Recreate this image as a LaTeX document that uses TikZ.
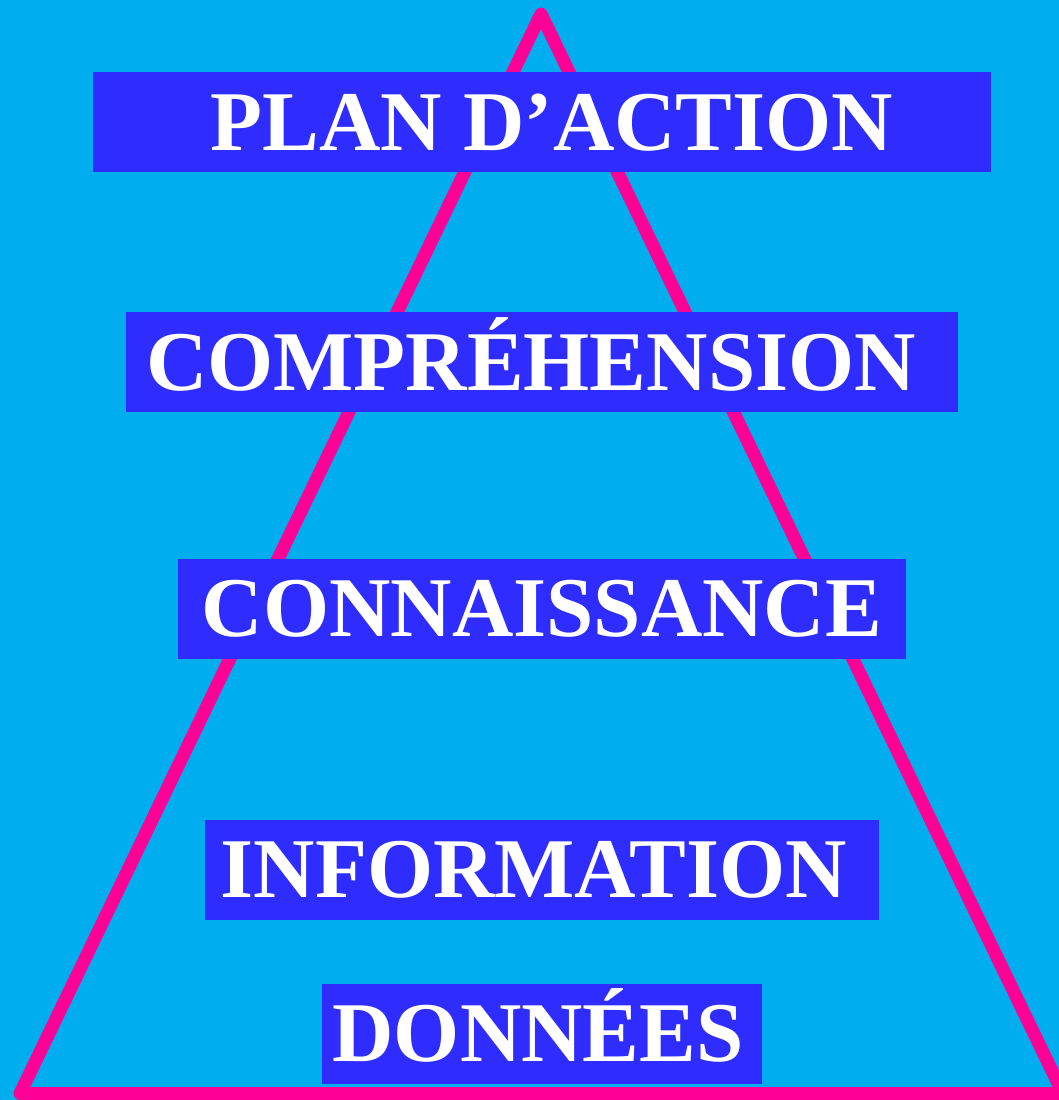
\documentclass[tikz,border=0pt]{standalone}
\usepackage{fontspec}
\setmainfont{Liberation Serif}
\usepackage{xcolor}
\usepackage{tikz}

\definecolor{fondbleu}{RGB}{0,174,239}
\definecolor{rose}{RGB}{255,0,150}
\definecolor{bleuboite}{RGB}{46,44,255}

\begin{document}
\begin{tikzpicture}[x=0.5pt,y=-0.5pt,
    niveau/.style={fill=bleuboite, text=white, inner sep=0pt,
      minimum height=50pt, text height=28.2pt, text depth=0pt,
      font=\fontsize{42.5pt}{42.5pt}\selectfont\bfseries}]
  % background
  \fill[fondbleu] (0,0) rectangle (1059,1100);
  \useasboundingbox (0,0) rectangle (1059,1100);

  % pyramid outline
  \coordinate (sommet) at (541,14);
  \coordinate (gauche) at (20,1093.5);
  \coordinate (droite) at (1063,1093.5);
  \draw[rose, line width=6.5pt, line join=round, line cap=round]
    (sommet) -- (droite) -- (gauche) -- cycle;

  % the five levels, top to bottom
  \node[niveau, minimum width=449pt] (plan) at (542,122)
    {\hspace*{10pt}PLAN D’ACTION};
  \node[niveau, minimum width=416pt] (compr) at (542,362)
    {COMPRÉHENSION\hspace*{11pt}};
  \node[niveau, minimum width=364pt] (conn) at (542,608.5)
    {CONNAISSANCE};
  \node[niveau, minimum width=337pt] (info) at (542,869.5)
    {INFORMATION\hspace*{8pt}};
  \node[niveau, minimum width=220pt] (donnees) at (542,1033.5)
    {DONNÉES\hspace*{4pt}};
\end{tikzpicture}
\end{document}
